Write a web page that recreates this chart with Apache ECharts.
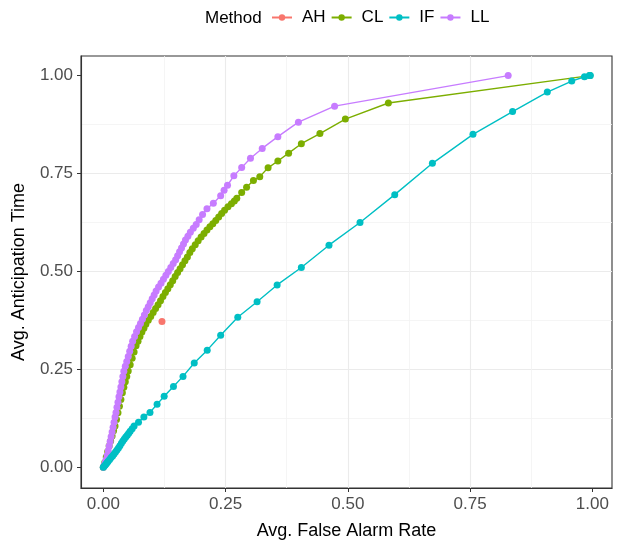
<!DOCTYPE html>
<html>
<head>
<meta charset="utf-8">
<script src="https://cdn.jsdelivr.net/npm/echarts@6/dist/echarts.min.js"></script>
<style>
  html, body { margin: 0; padding: 0; background: #ffffff; }
  #chart { width: 617px; height: 545px; }
</style>
</head>
<body>
<div id="chart"></div>
<script>
// values: [false alarm rate, anticipation time]
var methods = ['AH', 'CL', 'IF', 'LL'];
var colors = ['#F8766D', '#7CAE00', '#00BFC4', '#C77CFF'];
var tickValues = [0, 0.25, 0.5, 0.75, 1];

var dataAH = [[0.12, 0.372]];

var dataCL = [
  [0, 0], [0.003, 0.012], [0.006, 0.026], [0.009, 0.04], [0.012, 0.054], [0.015, 0.067],
  [0.018, 0.08], [0.021, 0.093], [0.024, 0.105], [0.027, 0.122], [0.03, 0.139], [0.033, 0.156],
  [0.036, 0.173], [0.039, 0.19], [0.042, 0.204], [0.045, 0.218], [0.048, 0.232], [0.051, 0.246],
  [0.055, 0.262], [0.059, 0.278], [0.063, 0.294], [0.067, 0.31], [0.071, 0.322], [0.075, 0.334],
  [0.079, 0.345], [0.083, 0.355], [0.087, 0.365], [0.092, 0.375], [0.097, 0.385], [0.102, 0.395],
  [0.107, 0.405], [0.112, 0.415], [0.117, 0.425], [0.122, 0.436], [0.127, 0.446], [0.132, 0.456],
  [0.137, 0.466], [0.142, 0.476], [0.147, 0.487], [0.152, 0.497], [0.157, 0.507], [0.162, 0.517],
  [0.167, 0.527], [0.172, 0.537], [0.177, 0.548], [0.182, 0.558], [0.188, 0.568], [0.194, 0.578],
  [0.2, 0.588], [0.206, 0.597], [0.212, 0.606], [0.218, 0.614], [0.224, 0.622], [0.23, 0.63],
  [0.236, 0.639], [0.242, 0.648], [0.248, 0.656], [0.255, 0.665], [0.262, 0.673], [0.268, 0.68],
  [0.273, 0.687], [0.283, 0.7015], [0.293, 0.715], [0.307, 0.732], [0.32, 0.742], [0.337, 0.7645],
  [0.357, 0.782], [0.379, 0.802], [0.405, 0.826], [0.443, 0.852], [0.495, 0.889], [0.583, 0.93],
  [0.995, 1.0]
];

var dataIF = [
  [0, 0], [0.002, 0.003], [0.004, 0.006], [0.006, 0.009], [0.008, 0.012], [0.01, 0.015],
  [0.013, 0.0195], [0.016, 0.025], [0.019, 0.029], [0.022, 0.034], [0.025, 0.039], [0.028, 0.044],
  [0.031, 0.049], [0.034, 0.055], [0.037, 0.061], [0.04, 0.067], [0.043, 0.072], [0.046, 0.077],
  [0.049, 0.082], [0.052, 0.087], [0.055, 0.092], [0.059, 0.098], [0.063, 0.105], [0.072, 0.115],
  [0.083, 0.128], [0.0955, 0.14], [0.11, 0.161], [0.1245, 0.181], [0.1435, 0.206], [0.163, 0.232],
  [0.186, 0.266], [0.2125, 0.299], [0.24, 0.337], [0.275, 0.383], [0.3145, 0.4225], [0.3555, 0.4655],
  [0.405, 0.51], [0.4615, 0.567], [0.525, 0.625], [0.596, 0.696], [0.673, 0.776], [0.756, 0.85],
  [0.837, 0.908], [0.908, 0.958], [0.958, 0.986], [0.984, 0.997], [0.994, 1.0], [0.996, 1.0]
];

var dataLL = [
  [0, 0], [0.002, 0.006], [0.004, 0.013], [0.006, 0.02], [0.008, 0.03], [0.01, 0.042],
  [0.012, 0.054], [0.014, 0.066], [0.016, 0.078], [0.018, 0.09], [0.02, 0.102], [0.022, 0.115],
  [0.024, 0.128], [0.026, 0.14], [0.028, 0.153], [0.03, 0.166], [0.032, 0.18], [0.034, 0.192],
  [0.036, 0.205], [0.038, 0.218], [0.04, 0.232], [0.042, 0.245], [0.045, 0.258], [0.048, 0.27],
  [0.051, 0.283], [0.054, 0.296], [0.057, 0.309], [0.06, 0.322], [0.064, 0.334], [0.068, 0.346],
  [0.072, 0.357], [0.076, 0.367], [0.08, 0.378], [0.084, 0.389], [0.088, 0.4], [0.092, 0.41],
  [0.096, 0.42], [0.1, 0.43], [0.104, 0.44], [0.108, 0.45], [0.113, 0.46], [0.118, 0.47],
  [0.123, 0.48], [0.128, 0.49], [0.133, 0.5], [0.138, 0.51], [0.143, 0.52], [0.148, 0.53],
  [0.152, 0.54], [0.156, 0.55], [0.16, 0.56], [0.164, 0.57], [0.168, 0.58], [0.173, 0.59],
  [0.178, 0.6], [0.184, 0.61], [0.19, 0.62], [0.196, 0.632], [0.203, 0.645], [0.212, 0.66],
  [0.225, 0.674], [0.24, 0.693], [0.247, 0.707], [0.254, 0.72], [0.267, 0.744], [0.283, 0.765],
  [0.301, 0.789], [0.325, 0.814], [0.357, 0.844], [0.399, 0.881], [0.473, 0.922], [0.828, 1.0]
];

var seriesData = [dataAH, dataCL, dataIF, dataLL];
var seriesZ = [2, 3, 5, 4];

var chartDom = document.getElementById('chart');
var myChart = echarts.init(chartDom, null, { renderer: 'canvas' });

var font = 'Liberation Sans, Arial, sans-serif';

function valueAxis(min, max, name, extra) {
  var ax = {
    type: 'value',
    min: min,
    max: max,
    minInterval: 0.25,
    maxInterval: 0.25,
    name: name,
    nameLocation: 'middle',
    nameTextStyle: { color: '#000000', fontSize: 18, fontFamily: font },
    axisLine: { show: true, onZero: false, lineStyle: { color: '#333333', width: 1.1 } },
    axisTick: {
      show: true,
      length: 4,
      customValues: tickValues,
      lineStyle: { color: '#333333', width: 1 }
    },
    axisLabel: {
      color: '#4D4D4D',
      fontSize: 17,
      fontFamily: font,
      margin: 8,
      customValues: tickValues,
      formatter: function (v) { return v.toFixed(2); }
    },
    splitLine: {
      show: true,
      showMinLine: false,
      showMaxLine: false,
      lineStyle: { color: '#EBEBEB', width: 1.1 }
    },
    minorTick: { show: false, splitNumber: 2 },
    minorSplitLine: { show: true, lineStyle: { color: '#F2F2F2', width: 0.8 } }
  };
  for (var k in extra) ax[k] = extra[k];
  return ax;
}

var option = {
  animation: false,
  backgroundColor: '#ffffff',
  title: {
    text: 'Method',
    left: 205,
    top: 10,
    padding: 0,
    textStyle: { color: '#000000', fontSize: 17, fontWeight: 'normal', fontFamily: font }
  },
  legend: {
    left: 271,
    top: 9,
    padding: 0,
    itemWidth: 20,
    itemHeight: 8,
    itemGap: 5,
    data: methods,
    textStyle: { color: '#000000', fontSize: 17, fontFamily: font, padding: [0, 0, 0, 5] }
  },
  grid: {
    left: 81,
    right: 5,
    top: 56,
    bottom: 56,
    show: true,
    borderColor: '#333333',
    borderWidth: 1.1,
    backgroundColor: 'transparent'
  },
  xAxis: valueAxis(-0.0456, 1.0403, 'Avg. False Alarm Rate', { nameGap: 34 }),
  yAxis: valueAxis(-0.053, 1.05, 'Avg. Anticipation Time', { nameGap: 53 }),
  series: methods.map(function (m, i) {
    return {
      name: m,
      type: 'line',
      data: seriesData[i],
      z: seriesZ[i],
      symbol: 'circle',
      symbolSize: 7,
      showAllSymbol: true,
      lineStyle: { color: colors[i], width: 1.4 },
      itemStyle: { color: colors[i] },
      emphasis: { disabled: true }
    };
  })
};

option && myChart.setOption(option);
</script>
</body>
</html>
